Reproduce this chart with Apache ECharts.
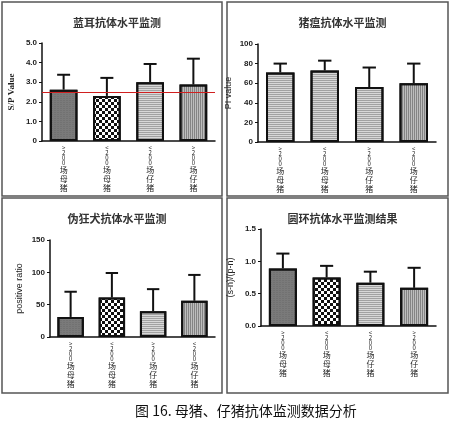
<!DOCTYPE html><html><head><meta charset="utf-8"><script src="https://cdn.jsdelivr.net/npm/echarts@6/dist/echarts.min.js"></script>
<style>body{margin:0;background:#fff}#c{width:450px;height:427px}</style></head><body><div id="c"></div><script>
const titles=['蓝耳抗体水平监测','猪瘟抗体水平监测','伪狂犬抗体水平监测','圆环抗体水平监测结果'];
const yNames=['S/P Value','PI value','positive ratio','(s-n)/(p-n)'];
const cats1=['>200场母猪','<200场母猪','<200场仔猪','>200场仔猪'];
const cats2=['>200场母猪','<200场母猪','>200场仔猪','<200场仔猪'];
const cats3=['>200场母猪','<200场母猪','>200场仔猪','<200场仔猪'];
const cats4=['>200场母猪','<200场母猪','<200场仔猪','>200场仔猪'];
const means1=[2.62,2.3,3.0,2.88], upper1=[3.38,3.22,3.93,4.2];
const means2=[71,73,56,60], upper2=[80,83,76,80];
const means3=[31,61,40,56], upper3=[70,99,74,96];
const means4=[0.89,0.75,0.67,0.59], upper4=[1.12,0.93,0.84,0.90];
const yMax=[5,100,150,1.5], yInt=[1,20,50,0.5];
const cutoff1=2.5;
const cats=[cats1,cats2,cats3,cats4], means=[means1,means2,means3,means4], uppers=[upper1,upper2,upper3,upper4];
const grids=[{left:42,top:43,width:173,height:98},{left:258,top:44,width:178,height:98},{left:50,top:240,width:165,height:97},{left:261,top:229,width:175,height:97}];
const panels=[[2,2,220,194],[227,2,221,194],[2,198,220,195],[227,198,221,195]];
const fills=[
 {color:'#7a7a7a',decal:{symbol:'rect',symbolSize:0.5,dashArrayX:[2,1],dashArrayY:[1,1],color:'rgba(0,0,0,0.25)'}},
 {color:'#ffffff',decal:{symbol:'rect',symbolSize:1,dashArrayX:[[3,3],[0,3,3,0]],dashArrayY:[3,0],color:'#111'}},
 {color:'#d8d8d8',decal:{symbol:'rect',symbolSize:1,dashArrayX:[1,0],dashArrayY:[1,1],rotation:0,color:'rgba(0,0,0,0.25)'}},
 {color:'#bdbdbd',decal:{symbol:'rect',symbolSize:1,dashArrayX:[1,1],dashArrayY:[1,0],color:'rgba(0,0,0,0.3)'}}];
const pattern=[[0,1,2,3],[2,2,2,3],[0,1,2,3],[0,1,2,3]];
function fmt(s){const m=s.match(/^([<>]\d+)(.*)$/);return m[1].split('').map(c=>'{d|'+c+'}').join('\n')+'\n'+m[2].split('').map(c=>'{c|'+c+'}').join('\n');}
const opt={animation:false,title:[],grid:grids,xAxis:[],yAxis:[],series:[],graphic:[]};
panels.forEach(p=>opt.graphic.push({type:'rect',shape:{x:p[0],y:p[1],width:p[2],height:p[3]},style:{fill:'none',stroke:'#555',lineWidth:1.5},silent:true}));
opt.graphic.push({type:'text',left:135,top:404,style:{text:'图 16. 母猪、仔猪抗体监测数据分析',font:'14px "Noto Sans CJK SC"',fill:'#111'}});
for(let i=0;i<4;i++){
 const p=panels[i];
 opt.title.push({text:titles[i],left:p[0]+p[2]/2,textAlign:'center',top:p[1]+10,textStyle:{fontSize:11,fontWeight:'bold',color:'#333',fontFamily:'Noto Sans CJK SC'}});
 opt.xAxis.push({type:'category',gridIndex:i,data:cats[i],axisLine:{lineStyle:{color:'#111',width:1.5}},axisTick:{show:false},
  axisLabel:{interval:0,margin:4,formatter:fmt,color:'#222',fontFamily:'Noto Sans CJK SC',rich:{d:{fontSize:6,lineHeight:5,color:'#222'},c:{fontSize:8,lineHeight:9,color:'#222',fontFamily:'Noto Sans CJK SC'}}}});
 opt.yAxis.push({type:'value',gridIndex:i,min:0,max:yMax[i],interval:yInt[i],name:yNames[i],nameLocation:'middle',nameGap:i==1?25:26,nameTextStyle:{fontSize:9,color:'#222',fontWeight:i==0?'bold':'normal',fontFamily:i==0?'Liberation Serif':'Liberation Sans'},
  splitLine:{show:false},axisLine:{show:true,lineStyle:{color:'#111',width:1.5}},axisTick:{show:true,length:3,lineStyle:{color:'#111'}},
  axisLabel:{fontSize:8,margin:5,color:'#222',fontWeight:'bold',formatter:v=>i==0?(v?v.toFixed(1):'0'):(i==3?v.toFixed(1):v)}});
 opt.series.push({type:'bar',xAxisIndex:i,yAxisIndex:i,barWidth:'64%',data:means[i].map((v,j)=>({value:v,itemStyle:Object.assign({borderColor:'#111',borderWidth:2},fills[pattern[i][j]])})),
  markLine:i==0?{silent:true,symbol:'none',label:{show:false},lineStyle:{color:'#d02020',type:'solid',width:1.2},data:[{yAxis:cutoff1}]}:undefined,z:2});
 opt.series.push({type:'custom',xAxisIndex:i,yAxisIndex:i,z:1,data:means[i].map((v,j)=>[j,v,uppers[i][j]]),
  renderItem:(params,api)=>{const a=api.coord([api.value(0),api.value(1)]),b=api.coord([api.value(0),api.value(2)]);const w=api.size([1,0])[0]*0.15;
   return {type:'group',children:[{type:'line',shape:{x1:a[0],y1:a[1],x2:b[0],y2:b[1]},style:{stroke:'#111',lineWidth:2}},{type:'line',shape:{x1:b[0]-w,y1:b[1],x2:b[0]+w,y2:b[1]},style:{stroke:'#111',lineWidth:2}}]};}});
}
echarts.init(document.getElementById('c')).setOption(opt);
</script></body></html>
